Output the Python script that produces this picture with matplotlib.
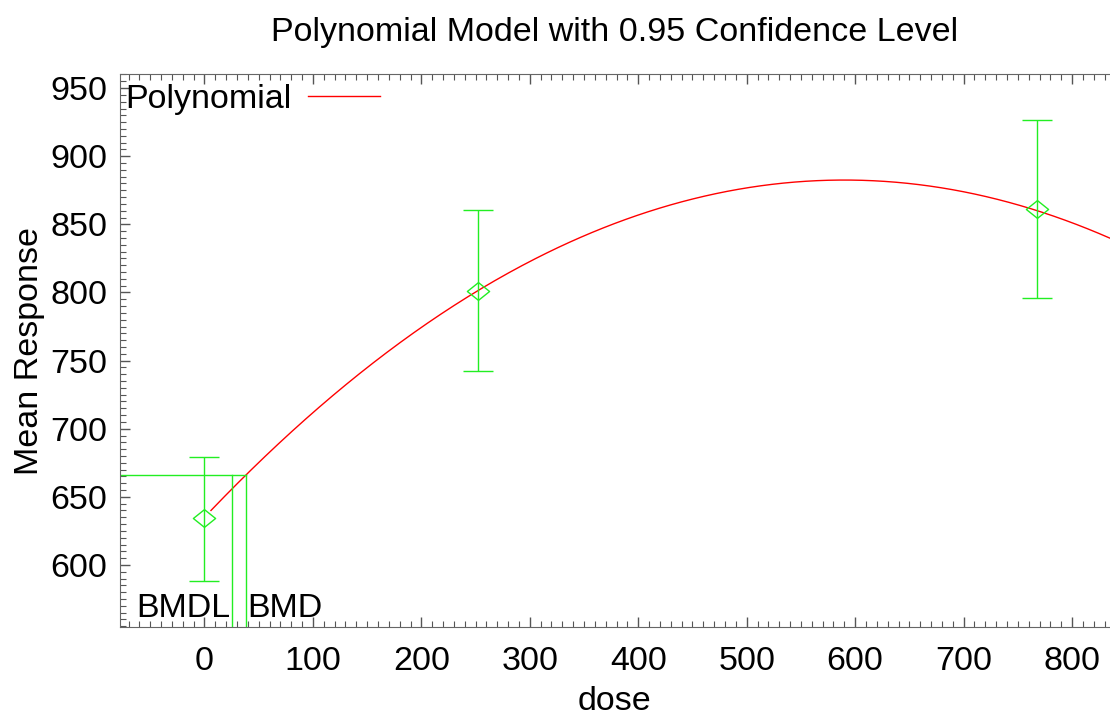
import numpy as np
import matplotlib.pyplot as plt
from matplotlib.path import Path
from matplotlib.ticker import MultipleLocator

plt.rcParams['font.family'] = ['Liberation Sans', 'DejaVu Sans']

# Observed group data
doses = [0, 252, 768]
means = [634.5, 801.3, 861.2]
lower = [588.5, 742.5, 796.0]
upper = [679.5, 860.5, 926.5]

# Fitted polynomial coefficients (b0 + b1*d + b2*d^2)
coefs = [635.0, 0.839, -0.000711]
curve_start = 6
bmd = 38.2
bmdl = 25.0

xlim = (-78, 835)
ylim = (554.5, 960.3)

fig = plt.figure(figsize=(11.10, 7.19), dpi=100)
ax = fig.add_axes([0.108, 0.128, 0.892, 0.769])

green = '#22ee22'
red = '#ff0000'
fs = 24.5

# slightly flattened diamond, like the original
diamond = Path([(-1, 0), (0, 0.8), (1, 0), (0, -0.8), (-1, 0)],
               [Path.MOVETO, Path.LINETO, Path.LINETO, Path.LINETO, Path.CLOSEPOLY])

# model curve
d = np.linspace(curve_start, xlim[1], 400)
resp = coefs[0] + coefs[1] * d + coefs[2] * d ** 2
ax.plot(d, resp, color=red, linewidth=1.0, label='Polynomial')

# error bars and means
means_arr = np.array(means)
yerr = [means_arr - np.array(lower), np.array(upper) - means_arr]
ax.errorbar(doses, means, yerr=yerr, fmt='none', ecolor=green,
            elinewidth=1.0, capsize=11, capthick=1.0)
ax.plot(doses, means, linestyle='none', marker=diamond, markersize=16,
        markerfacecolor='none', markeredgecolor=green, markeredgewidth=1.0)

# BMD / BMDL lines
bmd_resp = coefs[0] + coefs[1] * bmd + coefs[2] * bmd ** 2
ax.plot([xlim[0], bmd], [bmd_resp, bmd_resp], color=green, linewidth=1.0)
ax.plot([bmd, bmd], [ylim[0], bmd_resp], color=green, linewidth=1.0)
ax.plot([bmdl, bmdl], [ylim[0], bmd_resp], color=green, linewidth=1.0)
ax.text(bmdl - 1, ylim[0] + 2, 'BMDL', ha='right', va='bottom', fontsize=fs)
ax.text(bmd + 1, ylim[0] + 2, 'BMD', ha='left', va='bottom', fontsize=fs)

ax.set_xlim(*xlim)
ax.set_ylim(*ylim)
ax.xaxis.set_major_locator(MultipleLocator(100))
ax.xaxis.set_minor_locator(MultipleLocator(10))
ax.yaxis.set_major_locator(MultipleLocator(50))
ax.yaxis.set_minor_locator(MultipleLocator(5))
ax.tick_params(which='both', direction='in', top=True, right=False,
               colors='#555555', labelcolor='black', labelsize=fs)
ax.tick_params(which='major', length=7, width=1)
ax.tick_params(axis='y', which='major', pad=9)
ax.tick_params(axis='x', which='major', pad=14)
ax.tick_params(which='minor', length=4, width=0.8)
for s in ['left', 'bottom', 'top']:
    ax.spines[s].set_color('#666666')
ax.spines['right'].set_visible(False)

ax.set_xlabel('dose', fontsize=fs, labelpad=6)
ax.set_ylabel('Mean Response', fontsize=fs, labelpad=4)
ax.set_title('Polynomial Model with 0.95 Confidence Level', fontsize=fs, pad=24)

ax.legend(loc='upper left', frameon=False, fontsize=fs, markerfirst=False,
          handlelength=2.1, borderaxespad=0.0, borderpad=0.3, handletextpad=0.5,
          bbox_to_anchor=(-0.005, 1.0))

fig.savefig('out.png', dpi=100)
